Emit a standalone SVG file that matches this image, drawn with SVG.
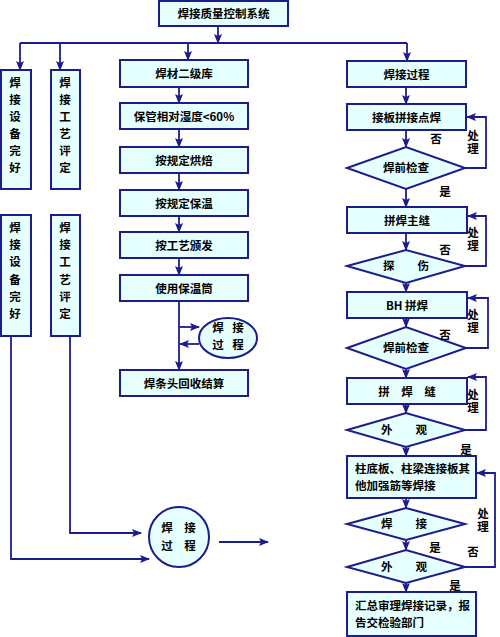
<svg xmlns="http://www.w3.org/2000/svg" width="500" height="637" viewBox="0 0 500 637">
<defs>
<style>
.b{fill:#e6ffff;stroke:#1c1c8c;stroke-width:2}
.t{font-family:"Noto Sans CJK SC","Noto Sans CJK JP",sans-serif;font-size:11.5px;font-weight:bold;fill:#000;text-anchor:middle}
.tl{font-family:"Noto Sans CJK SC","Noto Sans CJK JP",sans-serif;font-size:11.5px;font-weight:bold;fill:#000}
.v{font-family:"Noto Sans CJK SC","Noto Sans CJK JP",sans-serif;font-size:11.5px;font-weight:bold;fill:#000;writing-mode:tb;glyph-orientation-vertical:0;letter-spacing:1px}
.c{fill:none;stroke:#1c1c8c;stroke-width:1.8}
.a{fill:none;stroke:#1c1c8c;stroke-width:1.8;marker-end:url(#ah)}
</style>
<marker id="ah" markerUnits="userSpaceOnUse" markerWidth="10" markerHeight="8" viewBox="0 0 10 8" refX="9" refY="4" orient="auto">
<path d="M0,0 L10,4 L0,8 L2,4 Z" fill="#1c1c8c"/>
</marker>
</defs>

<g id="connectors">
<path class="a" d="M218,26 V43"/>
<path class="c" d="M20,43 H407"/>
<path class="a" d="M20,43 V70"/>
<path class="a" d="M60,43 V70"/>
<path class="a" d="M188,43 V60"/>
<path class="a" d="M407,43 V61"/>
<path class="a" d="M179,87 V103"/>
<path class="a" d="M179,129 V147"/>
<path class="a" d="M179,173 V190"/>
<path class="a" d="M179,216 V232"/>
<path class="a" d="M179,258 V275"/>
<path class="a" d="M179,301 V370"/>
<path class="a" d="M179,327 H199"/>
<path class="a" d="M199,344 H180"/>
<path class="a" d="M11,336 V559 H149"/>
<path class="a" d="M70,336 V533 H141"/>
<path class="a" d="M219,542 H268"/>
<path class="a" d="M406,87 V104"/>
<path class="a" d="M406,130 V147"/>
<path class="a" d="M406,189 V207"/>
<path class="a" d="M465,168 H486 V117 H467"/>
<path class="a" d="M406,233 V250"/>
<path class="a" d="M465,266 H486 V216 H468"/>
<path class="a" d="M406,283 V292"/>
<path class="a" d="M406,318 V327"/>
<path class="a" d="M466,348 H488 V298 H468"/>
<path class="a" d="M406,369 V378"/>
<path class="a" d="M406,404 V413"/>
<path class="a" d="M465,430 H486 V377 H468"/>
<path class="a" d="M406,447 V456"/>
<path class="a" d="M406,498 V508"/>
<path class="a" d="M406,540 V550"/>
<path class="a" d="M465,567 H495 V473 H477"/>
<path class="a" d="M406,583 V592"/>
</g>

<g id="top"><rect class="b" x="159" y="1" width="129" height="25"/><text class="t" x="223.5" y="18">焊接质量控制系统</text></g>

<g id="left1"><rect class="b" x="1" y="70" width="30" height="119"/>
<text class="t" x="15"><tspan x="15" y="87">焊</tspan><tspan x="15" y="104">接</tspan><tspan x="15" y="121">设</tspan><tspan x="15" y="138">备</tspan><tspan x="15" y="155">完</tspan><tspan x="15" y="172">好</tspan></text></g>
<g id="left2"><rect class="b" x="51" y="70" width="29" height="119"/>
<text class="t" x="65"><tspan x="65" y="87">焊</tspan><tspan x="65" y="104">接</tspan><tspan x="65" y="121">工</tspan><tspan x="65" y="138">艺</tspan><tspan x="65" y="155">评</tspan><tspan x="65" y="172">定</tspan></text></g>
<g id="left3"><rect class="b" x="1" y="215" width="30" height="121"/>
<text class="t" x="15"><tspan x="15" y="232">焊</tspan><tspan x="15" y="249">接</tspan><tspan x="15" y="266">设</tspan><tspan x="15" y="284">备</tspan><tspan x="15" y="301">完</tspan><tspan x="15" y="318">好</tspan></text></g>
<g id="left4"><rect class="b" x="51" y="215" width="29" height="121"/>
<text class="t" x="65"><tspan x="65" y="232">焊</tspan><tspan x="65" y="249">接</tspan><tspan x="65" y="266">工</tspan><tspan x="65" y="284">艺</tspan><tspan x="65" y="301">评</tspan><tspan x="65" y="318">定</tspan></text></g>

<g id="m1"><rect class="b" x="120" y="60" width="128" height="27"/><text class="t" x="184" y="78">焊材二级库</text></g>
<g id="m2"><rect class="b" x="120" y="103" width="128" height="26"/><text class="t" x="184" y="121">保管相对湿度&lt;60%</text></g>
<g id="m3"><rect class="b" x="120" y="147" width="128" height="26"/><text class="t" x="184" y="165">按规定烘焙</text></g>
<g id="m4"><rect class="b" x="120" y="190" width="128" height="26"/><text class="t" x="184" y="208">按规定保温</text></g>
<g id="m5"><rect class="b" x="120" y="232" width="128" height="26"/><text class="t" x="184" y="250">按工艺颁发</text></g>
<g id="m6"><rect class="b" x="120" y="275" width="128" height="26"/><text class="t" x="184" y="293">使用保温筒</text></g>
<g id="m7"><ellipse class="b" cx="228" cy="338" rx="29" ry="20"/><text class="t"><tspan x="218" y="332">焊</tspan><tspan x="238" y="332">接</tspan><tspan x="218" y="349">过</tspan><tspan x="238" y="349">程</tspan></text></g>
<g id="m8"><rect class="b" x="120" y="370" width="128" height="26"/><text class="t" x="184" y="388">焊条头回收结算</text></g>

<g id="circle"><circle class="b" cx="179" cy="537" r="30"/><text class="t"><tspan x="167" y="532">焊</tspan><tspan x="190" y="532">接</tspan><tspan x="167" y="550">过</tspan><tspan x="190" y="550">程</tspan></text></g>

<g id="r1"><rect class="b" x="347" y="61" width="119" height="26"/><text class="t" x="406.5" y="79">焊接过程</text></g>
<g id="r2"><rect class="b" x="347" y="104" width="119" height="26"/><text class="t" x="406.5" y="122">接板拼接点焊</text></g>
<g id="r3"><polygon class="b" points="347,168 406,147 465,168 406,189"/><text class="t" x="406" y="172">焊前检查</text></g>
<g id="r4"><rect class="b" x="347" y="207" width="120" height="26"/><text class="t" x="407" y="225">拼焊主缝</text></g>
<g id="r5"><polygon class="b" points="347,266 406,250 465,266 406,283"/><text class="t" x="406" y="270">探　　伤</text></g>
<g id="r6"><rect class="b" x="347" y="292" width="120" height="26"/><text class="t" x="407" y="310">BH 拼焊</text></g>
<g id="r7"><polygon class="b" points="347,348 406,327 466,348 406,369"/><text class="t" x="406" y="352">焊前检查</text></g>
<g id="r8"><rect class="b" x="347" y="378" width="120" height="26"/><text class="t" x="407" y="396">拼　焊　缝</text></g>
<g id="r9"><polygon class="b" points="347,430 406,413 465,430 406,447"/><text class="t" x="404" y="434">外　　观</text></g>
<g id="r10"><rect class="b" x="347" y="456" width="129" height="42"/><text class="tl"><tspan x="355" y="473">柱底板、柱梁连接板其</tspan><tspan x="355" y="490">他加强筋等焊接</tspan></text></g>
<g id="r11"><polygon class="b" points="347,524 406,508 465,524 406,540"/><text class="t" x="404" y="528">焊　　接</text></g>
<g id="r12"><polygon class="b" points="347,567 406,550 465,567 406,583"/><text class="t" x="404" y="571">外　　观</text></g>
<g id="r13"><rect class="b" x="347" y="592" width="129" height="44"/><text class="tl"><tspan x="355" y="610">汇总审理焊接记录，报</tspan><tspan x="355" y="627">告交检验部门</tspan></text></g>

<g id="labels">
<text class="t" x="436" y="143">否</text>
<text class="t" x="445" y="196">是</text>
<text class="v" x="473" y="130">处理</text>
<text class="t" x="445" y="254">否</text>
<text class="v" x="473" y="227">处理</text>
<text class="t" x="445" y="339">否</text>
<text class="v" x="473" y="309">处理</text>
<text class="v" x="473" y="389">处理</text>
<text class="t" x="466" y="454">是</text>
<text class="v" x="483" y="508">处理</text>
<text class="t" x="435" y="552">是</text>
<text class="t" x="473" y="556">否</text>
<text class="t" x="455" y="590">是</text>
</g>
</svg>
